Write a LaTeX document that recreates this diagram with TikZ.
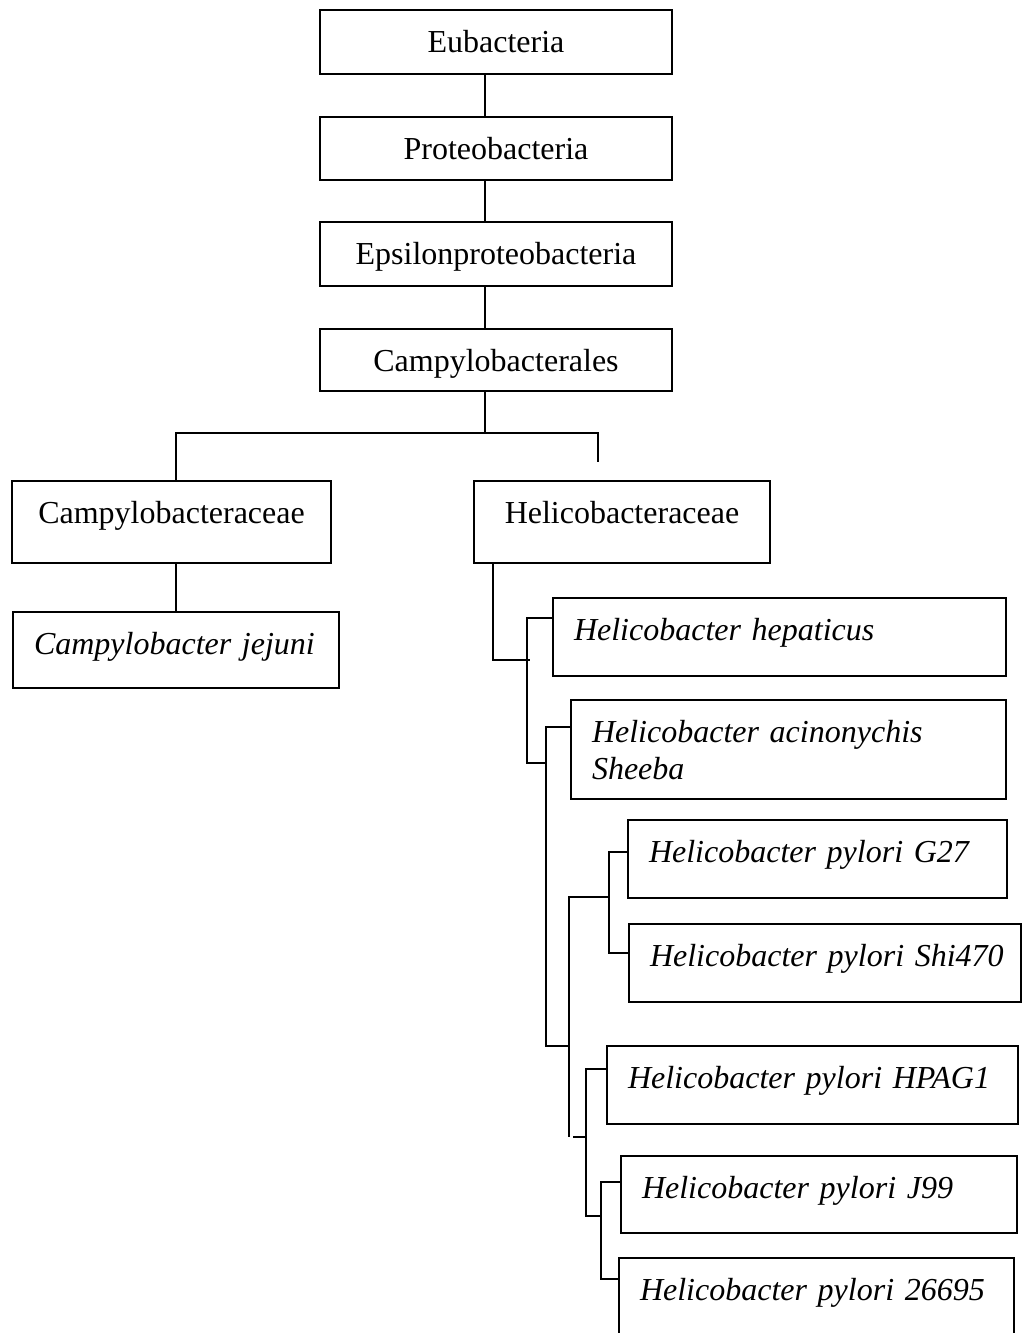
\documentclass[tikz,border=0pt]{standalone}
\usepackage{fontspec}
\setmainfont{Liberation Serif}
\tikzset{
  taxbox/.style={draw, line width=1pt, rectangle, anchor=north west,
    inner xsep=0pt, inner ysep=0pt, align=center, text height=21pt,
    font=\fontsize{16}{18.5}\selectfont},
  spbox/.style={taxbox, inner xsep=10.5pt, align=left,
    font=\fontsize{16}{18.5}\selectfont\itshape},
  link/.style={line width=1pt}
}
\begin{document}
\begin{tikzpicture}[x=0.5pt,y=-0.5pt]
      \useasboundingbox (0,0) rectangle (1022,1333);
      \node[taxbox, text width=176pt, text depth=11pt] (eub) at (319,9) {Eubacteria};
      \node[taxbox, text width=176pt, text depth=10.5pt] (prot) at (319,116) {Proteobacteria};
      \node[taxbox, text width=176pt, text depth=11pt] (eps) at (319,221) {Epsilonproteobacteria};
      \node[taxbox, text width=176pt, text depth=10pt] (camp) at (319,328) {Campylobacterales};
      \node[taxbox, text width=159.5pt, text depth=20pt] (campac) at (11,480) {Campylobacteraceae};
      \node[taxbox, text width=148pt, text depth=20pt] (helac) at (473,480) {Helicobacteraceae};
      \node[spbox, text width=142pt, text depth=17pt] (cjej) at (12,611) {Campylobacter jejuni};
      \node[spbox, text width=205.5pt, text depth=18pt] (hhep) at (552,597) {Helicobacter hepaticus};
      \node[spbox, text width=196.5pt, text depth=28.5pt] (hacin) at (570,699) {Helicobacter acinonychis\\Sheeba};
      \node[spbox, text width=168.5pt, text depth=18pt] (g27) at (627,819) {Helicobacter pylori G27};
      \node[spbox, text width=175pt, text depth=18pt] (shi) at (628,923) {\mbox{Helicobacter pylori Shi470}};
      \node[spbox, text width=184.5pt, text depth=18pt] (hpag) at (606,1045) {Helicobacter pylori HPAG1};
      \node[spbox, text width=177pt, text depth=17.5pt] (j99) at (620,1155) {Helicobacter pylori J99};
      \node[spbox, text width=176.5pt, text depth=29pt] (p266) at (618,1257) {Helicobacter pylori 26695};
      \coordinate (top) at (485,0);
      \coordinate (fkL) at (176,433);
      \coordinate (fkM) at (485,433);
      \coordinate (fkR) at (598,433);
      \coordinate (stub) at (598,462);
      \coordinate (h0) at (493,660);
      \coordinate (hA1) at (530,618);
      \coordinate (hA2) at (530,763);
      \coordinate (hB1) at (546,727);
      \coordinate (hB2) at (546,1046);
      \coordinate (hC1) at (569,897);
      \coordinate (hC2) at (569,1137);
      \coordinate (hD1) at (609,852);
      \coordinate (hD2) at (609,953);
      \coordinate (hE1) at (586,1069);
      \coordinate (hE2) at (586,1216);
      \coordinate (hF1) at (601,1182);
      \coordinate (hF2) at (601,1279);
      \begin{scope}[link]
        \draw (top |- eub.south) to (top |- prot.north);
        \draw (top |- prot.south) to (top |- eps.north);
        \draw (top |- eps.south) to (top |- camp.north);
        \draw (top |- camp.south) to (fkM);
        \draw (fkL |- campac.north) -- (fkL) -- (fkR) -- (stub);
        \draw (fkL |- campac.south) to (fkL |- cjej.north);
        \draw (h0 |- helac.south) -- (h0) -- (h0 -| hA1);
        \draw (hA1 -| hhep.west) -- ([xshift=-1.5pt]hA1) -- ([xshift=-1.5pt]hA2) -- (hA2 -| hB1);
        \draw (hB1 -| hacin.west) -- (hB1) -- (hB2) -- (hB2 -| hC1);
        \draw (hC1 -| hD1) -- (hC1) -- (hC2);
        \draw ([xshift=2pt]hC2) to (hC2 -| hE1);
        \draw (hD1 -| g27.west) -- (hD1) -- (hD2) -- (hD2 -| shi.west);
        \draw (hE1 -| hpag.west) -- (hE1) -- (hE2) -- (hE2 -| hF1);
        \draw (hF1 -| j99.west) -- (hF1) -- (hF2) -- (hF2 -| p266.west);
      \end{scope}
    \end{tikzpicture}
\end{document}
